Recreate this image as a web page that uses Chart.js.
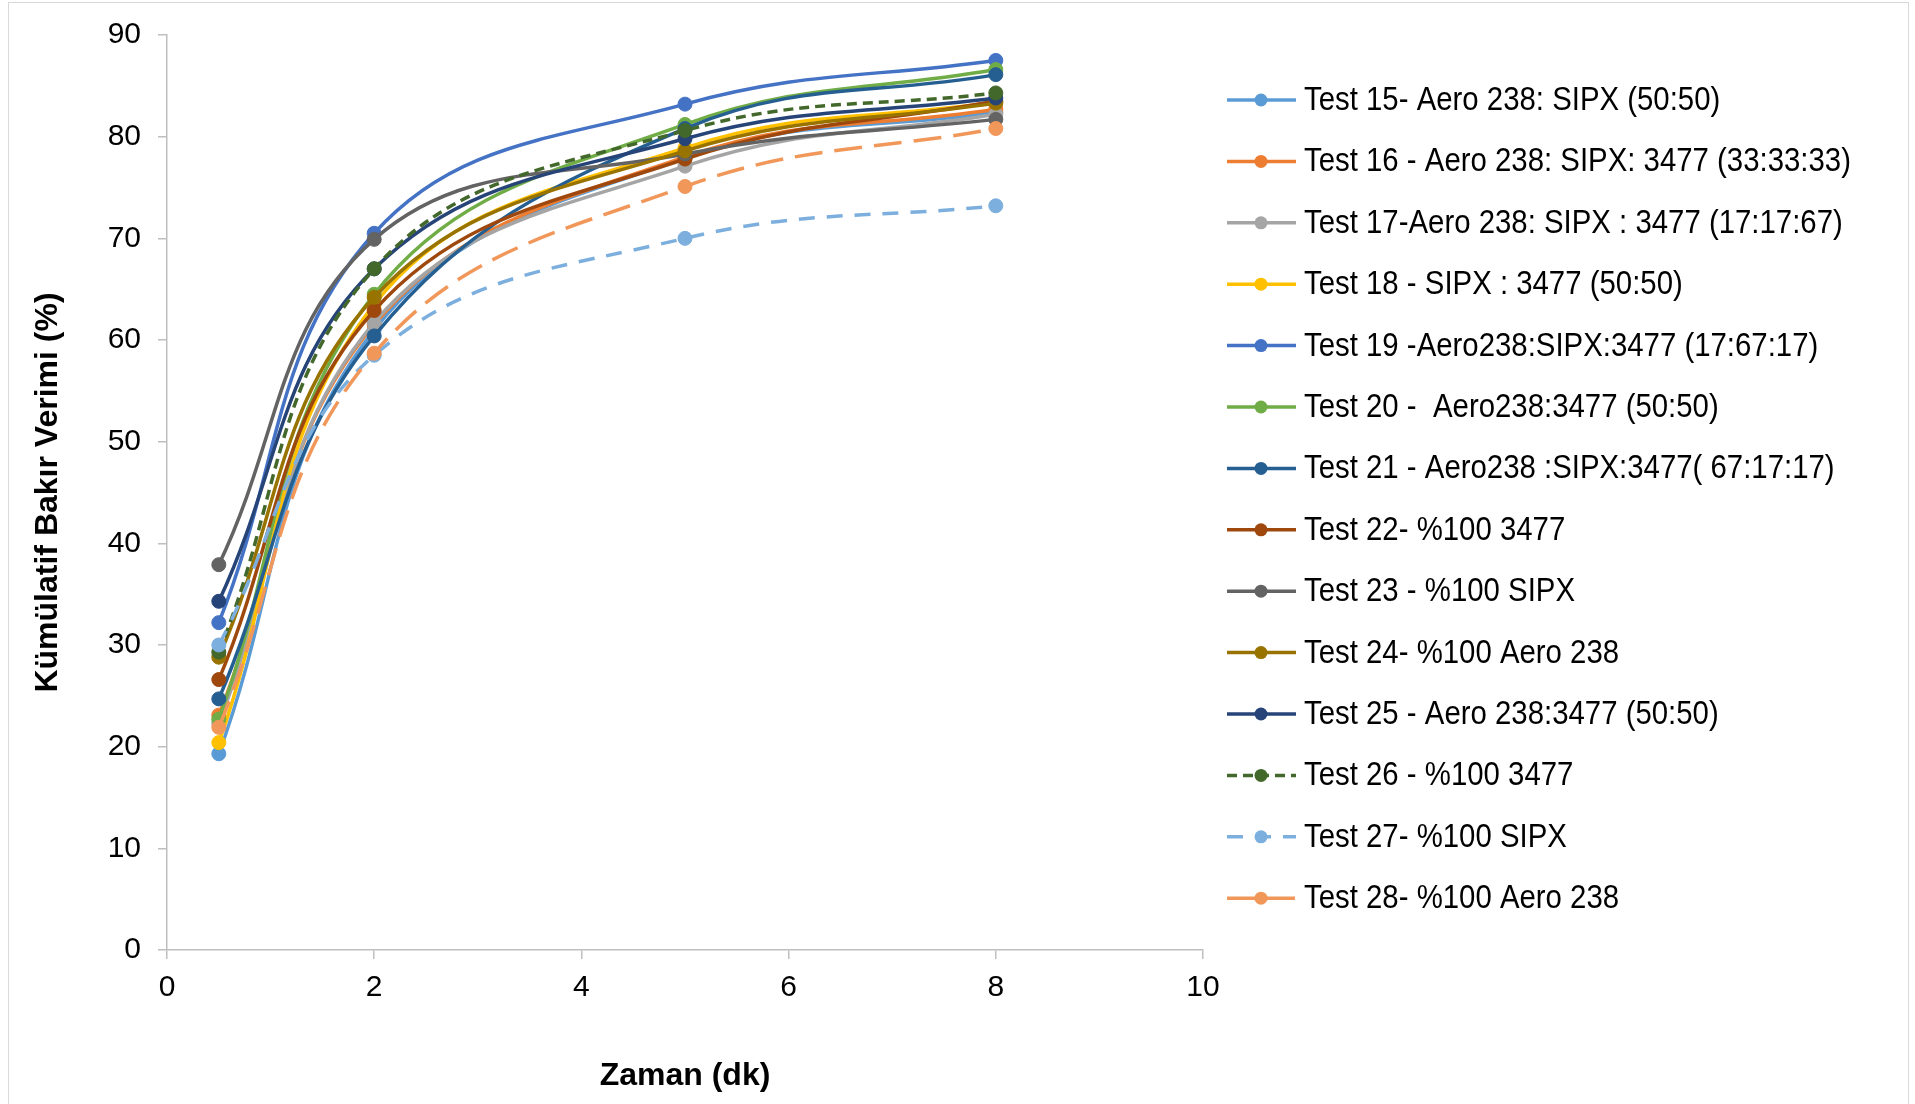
<!DOCTYPE html>
<html>
<head>
<meta charset="utf-8">
<script src="https://cdn.jsdelivr.net/npm/chart.js@4/dist/chart.umd.min.js"></script>
<style>
  html, body { margin: 0; padding: 0; background: #fff; }
  #wrap { width: 1915px; height: 1104px; }
</style>
</head>
<body>
<div id="wrap"><canvas id="grafik" width="1915" height="1104"></canvas></div>
<script>
// zaman (dk)
var zaman = [0.5, 2, 5, 8];

// kumulatif bakir verimi (%)
var test15 = [19.3, 61.0, 77.9, 82.4];
var test16 = [23.1, 61.5, 78.0, 82.7];
var test17 = [22.3, 61.7, 77.1, 82.2];
var test18 = [20.4, 63.5, 78.9, 83.4];
var test19 = [32.2, 70.5, 83.2, 87.5];
var test20 = [22.7, 64.5, 81.2, 86.6];
var test21 = [24.7, 60.4, 80.8, 86.1];
var test22 = [26.6, 62.9, 77.8, 83.5];
var test23 = [37.9, 69.9, 78.3, 81.7];
var test24 = [28.8, 64.2, 78.6, 83.3];
var test25 = [34.3, 67.0, 79.8, 83.8];
var test26 = [29.3, 67.0, 80.6, 84.3];
var test27 = [30.0, 58.5, 70.0, 73.2];
var test28 = [21.9, 58.7, 75.1, 80.8];

var etiketler = [
    'Test 15- Aero 238: SIPX (50:50)',
    'Test 16 - Aero 238: SIPX: 3477 (33:33:33)',
    'Test 17-Aero 238: SIPX : 3477 (17:17:67)',
    'Test 18 - SIPX : 3477 (50:50)',
    'Test 19 -Aero238:SIPX:3477 (17:67:17)',
    'Test 20 -  Aero238:3477 (50:50)',
    'Test 21 - Aero238 :SIPX:3477( 67:17:17)',
    'Test 22- %100 3477',
    'Test 23 - %100 SIPX',
    'Test 24- %100 Aero 238',
    'Test 25 - Aero 238:3477 (50:50)',
    'Test 26 - %100 3477',
    'Test 27- %100 SIPX',
    'Test 28- %100 Aero 238'
];
var seriler = [test15, test16, test17, test18, test19, test20, test21,
               test22, test23, test24, test25, test26, test27, test28];

var renkler = ['#5B9BD5', '#ED7D31', '#A5A5A5', '#FFC000', '#4472C4', '#70AD47', '#255E91',
               '#9E480E', '#636363', '#997300', '#264478', '#43682B', '#7CAFDD', '#F1975A'];
var kesikler = [[], [], [], [], [], [], [], [], [], [], [], [10, 6], [16, 12], [28, 12]];

var FONT = '"Liberation Sans", Arial, sans-serif';

// cerceve
var cercevePlugin = {
    id: 'cerceve',
    beforeDraw: function (chart) {
        var ctx = chart.ctx;
        ctx.save();
        ctx.fillStyle = '#fff';
        ctx.fillRect(0, 0, chart.width, chart.height);
        ctx.strokeStyle = '#D9D9D9';
        ctx.lineWidth = 1;
        ctx.strokeRect(8.5, 2.5, 1900, 1200);
        ctx.restore();
    }
};

// sagdaki lejant (yazi biraz dar: Arial Narrow gorunumu)
var lejantPlugin = {
    id: 'lejant',
    afterDraw: function (chart) {
        var ctx = chart.ctx;
        chart.data.datasets.forEach(function (ds, i) {
            var y = 100 + i * 61.4;
            ctx.save();
            ctx.strokeStyle = ds.borderColor;
            ctx.lineWidth = 3.5;
            ctx.setLineDash(ds.borderDash || []);
            ctx.beginPath();
            ctx.moveTo(1227, y);
            ctx.lineTo(1296, y);
            ctx.stroke();
            ctx.setLineDash([]);
            ctx.fillStyle = ds.borderColor;
            ctx.beginPath();
            ctx.arc(1261, y, 6.5, 0, Math.PI * 2);
            ctx.fill();
            ctx.fillStyle = '#000';
            ctx.font = '33px ' + FONT;
            ctx.textBaseline = 'middle';
            ctx.textAlign = 'left';
            ctx.translate(1304, y);
            ctx.scale(0.89, 1);
            ctx.fillText(ds.label, 0, 1);
            ctx.restore();
        });
    }
};

var datasets = seriler.map(function (s, i) {
    return {
        label: etiketler[i],
        data: zaman.map(function (x, j) { return { x: x, y: s[j] }; }),
        borderColor: renkler[i],
        backgroundColor: renkler[i],
        pointBackgroundColor: renkler[i],
        pointBorderColor: renkler[i],
        borderDash: kesikler[i],
        borderWidth: 3.5,
        pointRadius: 7,
        pointBorderWidth: 1,
        tension: 0.4,
        fill: false,
        order: -i
    };
});

new Chart(document.getElementById('grafik'), {
    type: 'line',
    data: { datasets: datasets },
    options: {
        responsive: false,
        animation: false,
        layout: { padding: { left: 0, top: 34, right: 712, bottom: 0 } },
        plugins: {
            legend: { display: false },
            tooltip: { enabled: false }
        },
        scales: {
            x: {
                type: 'linear',
                min: 0,
                max: 10,
                ticks: { stepSize: 2, color: '#000', padding: 11, font: { family: FONT, size: 30 } },
                grid: { drawOnChartArea: false, color: '#BFBFBF', tickLength: 9, lineWidth: 1.5 },
                border: { color: '#BFBFBF', width: 1.5 },
                title: {
                    display: true, text: 'Zaman (dk)', color: '#000',
                    font: { family: FONT, size: 32, weight: 'bold' },
                    padding: { top: 0, bottom: 9 }
                },
                afterFit: function (scale) { scale.height = 1104 - 950; }
            },
            y: {
                min: 0,
                max: 90,
                ticks: { stepSize: 10, color: '#000', padding: 17, font: { family: FONT, size: 30 } },
                grid: { drawOnChartArea: false, color: '#BFBFBF', tickLength: 9, lineWidth: 1.5 },
                border: { color: '#BFBFBF', width: 1.5 },
                title: {
                    display: true, text: 'Kümülatif Bakır Verimi (%)', color: '#000',
                    font: { family: FONT, size: 32, weight: 'bold' },
                    padding: { top: 29, bottom: 0 }
                },
                afterFit: function (scale) { scale.width = 167; }
            }
        }
    },
    plugins: [cercevePlugin, lejantPlugin]
});
</script>
</body>
</html>
